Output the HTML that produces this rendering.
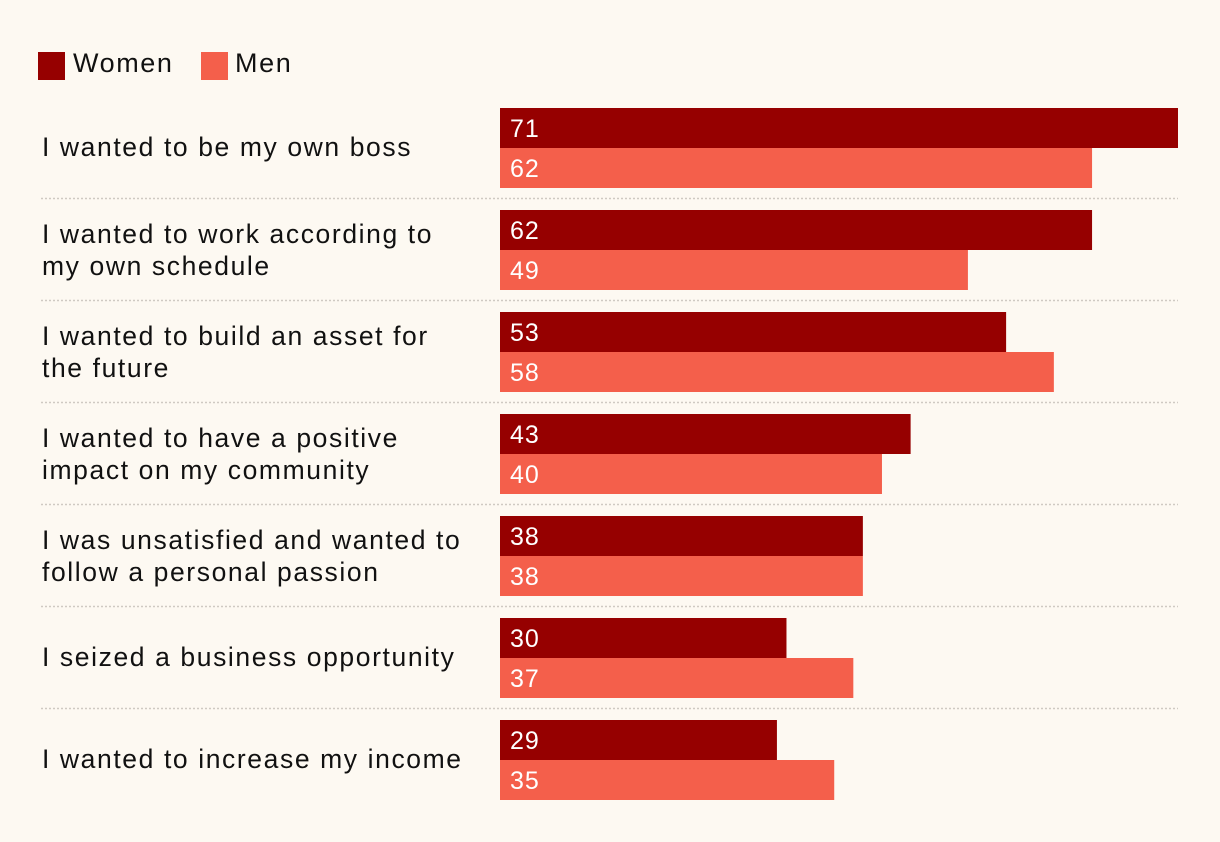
<!DOCTYPE html>
<html><head><meta charset="utf-8"><style>
html,body{margin:0;padding:0;background:#fdf9f2;}
svg{display:block;font-family:"Liberation Sans",sans-serif;}
.lbl{letter-spacing:1.6px;}
</style></head><body>
<svg id="chart" width="1220" height="842">
<rect width="1220" height="842" fill="#fdf9f2"/>
<g>
<rect x="38" y="52" width="27" height="28" fill="#960000"/>
<text class="lbl" x="73" y="72" font-size="27" fill="#111">Women</text>
<rect x="201" y="52" width="27" height="28" fill="#f45f4b"/>
<text class="lbl" x="235" y="72" font-size="27" fill="#111">Men</text>
</g>
<g id="plot"></g>
</svg>
<script>
const categories = [
 ["I wanted to be my own boss"],
 ["I wanted to work according to","my own schedule"],
 ["I wanted to build an asset for","the future"],
 ["I wanted to have a positive","impact on my community"],
 ["I was unsatisfied and wanted to","follow a personal passion"],
 ["I seized a business opportunity"],
 ["I wanted to increase my income"]
];
const women = [71,62,53,43,38,30,29];
const men = [62,49,58,40,38,37,35];

const NS="http://www.w3.org/2000/svg";
const g=document.getElementById('plot');
const x0=500, xMax=71, xEnd=1178;
const xScale=v=>(v/xMax)*(xEnd-x0);
const rowTop=i=>108+i*102;
function mk(tag,attrs){const e=document.createElementNS(NS,tag);for(const k in attrs)e.setAttribute(k,attrs[k]);g.appendChild(e);return e;}
categories.forEach((lines,i)=>{
 const y=rowTop(i);
 const wb=mk('rect',{x:x0,y:y,width:xScale(women[i]),height:40,fill:'#960000'});
 
 
 const mb=mk('rect',{x:x0,y:y+40,width:xScale(men[i]),height:40,fill:'#f45f4b'});
 
 
 const wt=mk('text',{x:x0+10,y:y+29,'font-size':25,fill:'#fff','letter-spacing':1});wt.textContent=women[i];
 
 
 const mt=mk('text',{x:x0+10,y:y+69,'font-size':25,fill:'#fff','letter-spacing':1});mt.textContent=men[i];
 
 
 const lab=mk('text',{x:42,'font-size':26.5,fill:'#111','class':'lbl'});
 
 
 const start = lines.length===1 ? y+48 : y+33;
 lines.forEach((l,j)=>{const ts=document.createElementNS(NS,'tspan');ts.setAttribute('x',42);ts.setAttribute('y',start+j*32);ts.textContent=l;lab.appendChild(ts);});
 if(i<categories.length-1){
  const ln=mk('line',{x1:41,x2:1178,y1:y+90.5,y2:y+90.5,stroke:'#cfcac3','stroke-width':1.5,'stroke-dasharray':'2 2'});
  
  
 }
});
</script>
</body></html>
